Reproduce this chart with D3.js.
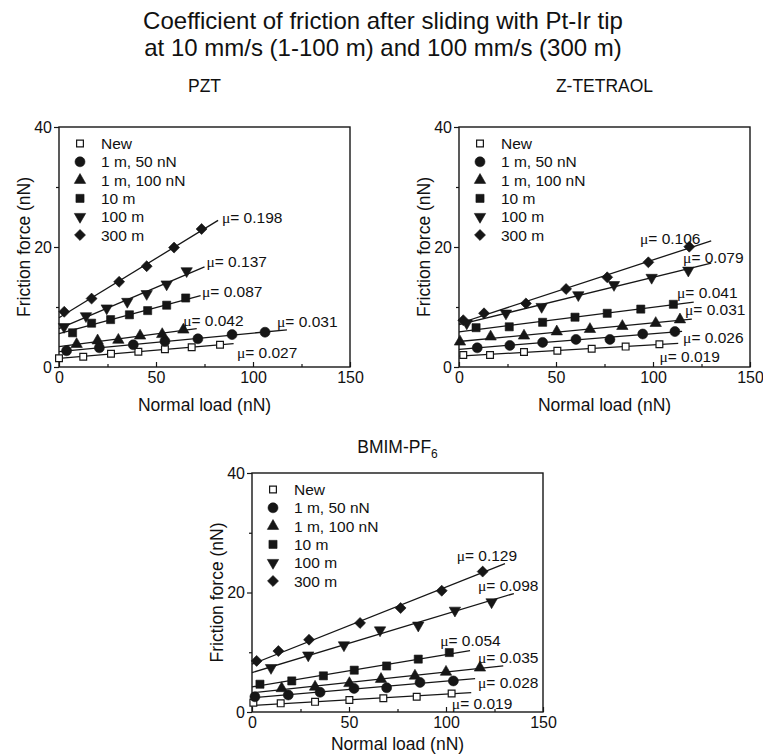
<!DOCTYPE html>
<html><head><meta charset="utf-8">
<script src="https://cdn.jsdelivr.net/npm/d3@7"></script>
<style>
body{margin:0;background:#fff}
svg{display:block}
text{font-family:"Liberation Sans",Arial,Helvetica,sans-serif;fill:#111}
</style>
</head><body>
<svg id="chart" width="763" height="756"></svg>
<script>
// ---------- data ----------
const titleLines = ["Coefficient of friction after sliding with Pt-Ir tip",
                    "at 10 mm/s (1-100 m) and 100 mm/s (300 m)"];
const seriesNames = ["New", "1 m, 50 nN", "1 m, 100 nN", "10 m", "100 m", "300 m"];
const seriesSymbols = ["openSquare", "circle", "triangle", "square", "triangleDown", "diamond"];
const xTicks = [0, 50, 100, 150];
const xMinorTicks = [25, 75, 125];
const yTicks = [0, 20, 40];
const yMinorTicks = [10, 30];
const xTitle = "Normal load (nN)";
const yTitle = "Friction force (nN)";

// PZT  (normal load nN, friction nN)
const pztNew    = [[0,1.45],[12.5,1.7],[26.8,2.2],[40.9,2.55],[54.6,2.95],[68.4,3.3],[83,3.7]];
const pzt1m50   = [[3.9,2.7],[20.8,3.2],[38.3,3.7],[54.6,4.3],[71.6,4.7],[89.2,5.4],[106.2,5.8]];
const pzt1m100  = [[9.1,3.8],[19.9,4.4],[30.6,4.5],[41.8,5.2],[53.2,5.45],[64.1,6.2]];
const pzt10m    = [[7,5.7],[16.8,7.3],[26.6,7.9],[36.3,8.7],[45.7,9.4],[55.5,10.3],[65.3,11.5]];
const pzt100m   = [[2.6,6.7],[13.9,8.5],[24.6,9.8],[35.2,10.9],[45.2,12.2],[55.5,13.8],[65.8,16.0]];
const pzt300m   = [[2.7,9.2],[16.8,11.4],[31,14.2],[45.2,16.8],[59.3,19.9],[73.5,23]];
const pztMu        = [0.027, 0.031, 0.042, 0.087, 0.137, 0.198];
const pztIntercept = [1.45, 2.55, 3.4, 5.55, 6.4, 8.2];
const pztFitEnd    = [90, 117.5, 71, 73, 75, 82];
const pztLabelAt   = [[91.7,2.55],[112.4,7.7],[64,7.8],[73.7,12.6],[76,17.6],[84,25.0]];

// Z-TETRAOL
const ztNew   = [[2.2,2.0],[16,2.0],[33.5,2.5],[50.7,2.7],[68.4,3.05],[85.9,3.4],[103.3,3.8]];
const zt1m50  = [[9.4,3.2],[26.2,3.6],[43.1,4.1],[60.3,4.6],[77.8,4.6],[94.7,5.5],[111.3,5.9]];
const zt1m100 = [[0.5,4.2],[16.3,5.05],[33.5,5.2],[50.4,5.9],[67.5,6.3],[84.2,6.8],[101.4,7.3],[113.9,7.9]];
const zt10m   = [[8.8,6.55],[25.9,6.7],[43.1,7.45],[59.8,8.3],[76.4,8.95],[93.7,9.65],[110.5,10.45]];
const zt100m  = [[4,7.3],[24.2,8.95],[42.6,10.05],[61.5,12],[79.9,13.7],[99.3,14.9],[118.2,16.1]];
const zt300m  = [[2.2,7.8],[12.9,8.95],[34.5,10.6],[55.2,13],[76.4,14.95],[97.6,17.45],[118.7,20.05]];
const ztMu        = [0.019, 0.026, 0.031, 0.041, 0.079, 0.106];
const ztIntercept = [1.8, 2.95, 4.25, 5.85, 7.05, 7.25];
const ztFitEnd    = [113, 115, 120, 121, 130, 130];
const ztLabelAt   = [[103.3,1.8],[115.5,5.05],[116.5,9.6],[112.4,12.55],[115.5,18.4],[93.3,21.45]];

// BMIM-PF6
const bmNew   = [[0.7,1.55],[14.8,1.45],[32.5,1.7],[50.2,2.0],[67.7,2.3],[84.9,2.55],[102.9,3.1]];
const bm1m50  = [[1.5,2.55],[18.7,2.85],[35.1,3.3],[52.6,3.95],[69.4,4.05],[86.6,4.95],[103.8,5.2]];
const bm1m100 = [[15.3,3.95],[32.5,4.2],[50.2,4.8],[66.5,5.5],[84,6.05],[100,6.7],[117.5,7.4]];
const bm10m   = [[4.1,4.65],[20.5,5.2],[36.8,6.05],[52.7,7.0],[69.4,7.7],[85.7,8.85],[101.7,9.95]];
const bm100m  = [[9.8,7.4],[29,9.5],[47.4,11.2],[66,13.7],[85.7,14.5],[104.6,17],[123.5,18.4]];
const bm300m  = [[2.4,8.55],[13.6,10.2],[29.4,12.1],[55.7,14.9],[76.6,17.4],[97.8,20.3],[118.9,23.5]];
const bmMu        = [0.019, 0.028, 0.035, 0.054, 0.098, 0.129];
const bmIntercept = [1.1, 2.37, 3.2, 4.2, 6.6, 8.0];
const bmFitEnd    = [113, 115, 129.5, 112.4, 135, 130.4];
const bmLabelAt   = [[103,1.45],[116.5,4.95],[116.5,9.2],[97,12.1],[116.5,21.2],[105.5,26.2]];

// ---------- layout ----------
const panels = [
  {title:"PZT", sub:null, left:59, top:127, w:291, h:240, titleY:92, xTitleGap:44,
   series:[pztNew,pzt1m50,pzt1m100,pzt10m,pzt100m,pzt300m], mu:pztMu, b:pztIntercept, end:pztFitEnd, lab:pztLabelAt},
  {title:"Z-TETRAOL", sub:null, left:459, top:127, w:291, h:240, titleY:92, xTitleGap:44,
   series:[ztNew,zt1m50,zt1m100,zt10m,zt100m,zt300m], mu:ztMu, b:ztIntercept, end:ztFitEnd, lab:ztLabelAt},
  {title:"BMIM-PF", sub:"6", left:252, top:473, w:291, h:239, titleY:453, xTitleGap:38,
   series:[bmNew,bm1m50,bm1m100,bm10m,bm100m,bm300m], mu:bmMu, b:bmIntercept, end:bmFitEnd, lab:bmLabelAt}
];

const svg = d3.select("#chart");
const ink = "#161616";

svg.append("text").attr("x", 383).attr("y", 29).attr("text-anchor","middle")
  .style("font-size","24px").text(titleLines[0]);
svg.append("text").attr("x", 383).attr("y", 56).attr("text-anchor","middle")
  .style("font-size","24px").text(titleLines[1]);

function drawSymbol(sel, kind, cx, cy) {
  let path, rot = 0, filled = true;
  if (kind === "openSquare") { path = d3.symbol(d3.symbolSquare, 46)(); filled = false; }
  else if (kind === "square") path = d3.symbol(d3.symbolSquare, 66)();
  else if (kind === "circle") path = d3.symbol(d3.symbolCircle, 78)();
  else if (kind === "triangle") path = d3.symbol(d3.symbolTriangle, 56)();
  else if (kind === "triangleDown") { path = d3.symbol(d3.symbolTriangle, 56)(); rot = 180; }
  else if (kind === "diamond") { path = d3.symbol(d3.symbolSquare, 60)(); rot = 45; }
  sel.append("path").attr("d", path)
    .attr("transform", `translate(${cx},${cy}) rotate(${rot})`)
    .attr("fill", filled ? ink : "#fff")
    .attr("stroke", ink).attr("stroke-width", filled ? 0.6 : 1.2);
}

panels.forEach(p => {
  const g = svg.append("g").attr("transform", `translate(${p.left},${p.top})`);
  const x = d3.scaleLinear().domain([0,150]).range([0,p.w]);
  const y = d3.scaleLinear().domain([0,40]).range([p.h,0]);

  // panel title
  const t = svg.append("text").attr("x", p.left + p.w/2).attr("y", p.titleY)
    .attr("text-anchor","middle").style("font-size","17.5px").text(p.title);
  if (p.sub) t.append("tspan").attr("dy", 5).style("font-size","12px").text(p.sub);

  // axes
  g.append("g").attr("transform", `translate(0,${p.h})`)
    .call(d3.axisBottom(x).tickValues(xTicks).tickSize(-5).tickPadding(5).tickFormat(d3.format("d")));
  g.append("g").attr("transform", `translate(0,${p.h})`)
    .call(d3.axisBottom(x).tickValues(xMinorTicks).tickSize(-3).tickFormat(""));
  g.append("g")
    .call(d3.axisLeft(y).tickValues(yTicks).tickSize(5).tickPadding(2).tickFormat(d3.format("d")));
  g.append("g").call(d3.axisLeft(y).tickValues(yMinorTicks).tickSize(3).tickFormat(""));
  g.selectAll(".domain").remove();
  g.selectAll(".tick line").attr("stroke", ink).attr("stroke-width", 1.2);
  g.selectAll(".tick text").style("font-size","16px").style("font-family",'"Liberation Sans",Arial,sans-serif').attr("fill","#111");

  g.append("rect").attr("x",0).attr("y",0).attr("width",p.w).attr("height",p.h)
    .attr("fill","none").attr("stroke",ink).attr("stroke-width",1.4);

  // axis titles
  g.append("text").attr("x", p.w/2).attr("y", p.h + p.xTitleGap).attr("text-anchor","middle")
    .style("font-size","17.5px").text(xTitle);
  g.append("text").attr("transform", `translate(-29,${p.h/2}) rotate(-90)`)
    .attr("text-anchor","middle").style("font-size","17.5px").text(yTitle);

  // fit lines
  p.mu.forEach((m,i) => {
    g.append("line")
      .attr("x1", x(0)).attr("y1", y(p.b[i]))
      .attr("x2", x(p.end[i])).attr("y2", y(p.b[i] + m * p.end[i]))
      .attr("stroke", ink).attr("stroke-width", 1.3);
  });

  // markers
  p.series.forEach((pts,i) => {
    pts.forEach(d => drawSymbol(g, seriesSymbols[i], x(d[0]), y(d[1])));
  });

  // mu labels
  p.mu.forEach((m,i) => {
    const tx = g.append("text").attr("x", x(p.lab[i][0])).attr("y", y(p.lab[i][1]))
      .attr("dominant-baseline","central").style("font-size","15.5px");
    tx.append("tspan").style("font-family",'"Liberation Serif","Times New Roman",serif').text("\u03BC");
    tx.append("tspan").text("= " + m.toFixed(3));
  });

  // legend
  seriesNames.forEach((n,i) => {
    const ly = 16.5 + i * 18.3;
    drawSymbol(g, seriesSymbols[i], 21, ly);
    g.append("text").attr("x", 42).attr("y", ly).attr("dominant-baseline","central")
      .style("font-size","15.5px").text(n);
  });
});
</script>
</body></html>
